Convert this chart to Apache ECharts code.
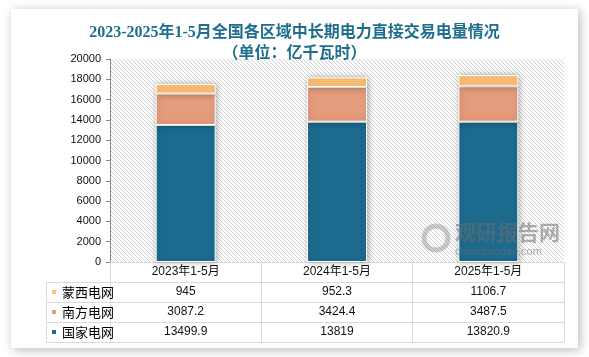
<!DOCTYPE html>
<html>
<head>
<meta charset="utf-8">
<script src="https://cdn.jsdelivr.net/npm/echarts@6/dist/echarts.min.js"></script>
<style>
html,body{margin:0;padding:0;background:#ffffff;}
#main{width:589px;height:357px;}
</style>
</head>
<body>
<div id="main"></div>
<script>
var categories = ['2023年1-5月', '2024年1-5月', '2025年1-5月'];
var guojia = [13499.9, 13819, 13820.9];
var nanfang = [3087.2, 3424.4, 3487.5];
var mengxi = [945, 952.3, 1106.7];
var seriesNames = ['国家电网', '南方电网', '蒙西电网'];
var colors = ['#1c6b8e', '#e59c7c', '#ffc176'];
var yTicks = {min: 0, max: 20000, interval: 2000};

var chart = echarts.init(document.getElementById('main'), null, {renderer: 'canvas'});

var pc = document.createElement('canvas');
pc.width = 4; pc.height = 4;
var ctx = pc.getContext('2d');
ctx.fillStyle = '#ffffff';
ctx.fillRect(0, 0, 4, 4);
ctx.fillStyle = '#d2d2d2';
for (var i = 0; i < 4; i++) { ctx.fillRect(i, i, 1, 1); }

var gridL = 110, gridR = 25, gridT = 59, gridB = 95;
var W = 589, H = 357;
var plotBottom = H - gridB;
var rowH = 20;
var tableLeft = 46;
var lineColor = '#d9d9d9';

function rowAxis(vals, k) {
  return {
    type: 'category', data: categories, position: 'bottom', offset: rowH * k,
    gridIndex: 0,
    axisLine: {show: false}, axisTick: {show: false},
    axisLabel: {
      margin: 10, verticalAlign: 'middle', fontSize: 12, color: '#111',
      fontFamily: 'Liberation Sans, Noto Sans CJK SC',
      formatter: function (v, idx) { return String(vals[idx]); }
    }
  };
}

var graphics = [
  {type: 'rect', z: -10, shape: {x: 11, y: 9, width: 567, height: 339},
   style: {fill: '#ffffff', shadowBlur: 10, shadowColor: 'rgba(0,0,0,0.28)', shadowOffsetX: 2, shadowOffsetY: 2}}
];
for (var r = 1; r <= 4; r++) {
  graphics.push({type: 'line', z: 10, shape: {x1: tableLeft, y1: plotBottom + rowH * r + 0.5, x2: W - gridR, y2: plotBottom + rowH * r + 0.5},
    style: {stroke: lineColor, lineWidth: 1}});
}
graphics.push({type: 'line', z: 10, shape: {x1: tableLeft + 0.5, y1: plotBottom + rowH, x2: tableLeft + 0.5, y2: plotBottom + rowH * 4},
  style: {stroke: lineColor, lineWidth: 1}});
graphics.push({type: 'text', z: 5, left: 455, top: 222,
  style: {text: '观研报告网', fill: 'rgba(110,110,110,0.55)', font: 'bold 21px "Noto Sans CJK SC"'}});
graphics.push({type: 'text', z: 5, left: 455, top: 246,
  style: {text: 'chinabaogao.com', fill: 'rgba(110,110,110,0.55)', font: '11px "Liberation Sans"'}});
graphics.push({type: 'circle', z: 5, shape: {cx: 436, cy: 238, r: 12},
  style: {fill: 'none', stroke: 'rgba(140,140,140,0.45)', lineWidth: 5}});

var option = {
  animation: false,
  backgroundColor: 'transparent',
  title: {
    text: '2023-2025年1-5月全国各区域中长期电力直接交易电量情况\n（单位：亿千瓦时）',
    left: 'center', top: 22, padding: 0,
    textStyle: {fontSize: 16, fontWeight: 'bold', color: '#1f6e8e', lineHeight: 21,
      fontFamily: 'Liberation Serif, Noto Sans CJK SC'}
  },
  legend: {
    orient: 'vertical', left: 50, top: plotBottom + rowH, padding: 0, itemGap: 0,
    itemWidth: 6, itemHeight: 6, icon: 'rect',
    data: ['蒙西电网', '南方电网', '国家电网'],
    textStyle: {fontSize: 13, lineHeight: 20, color: '#000', fontFamily: 'Noto Sans CJK SC'}
  },
  grid: {left: gridL, right: gridR, top: gridT, bottom: gridB, show: true,
    backgroundColor: {image: pc, repeat: 'repeat'}, borderWidth: 0},
  graphic: graphics,
  xAxis: [
    {
      type: 'category', data: categories, position: 'bottom',
      axisLine: {show: true, lineStyle: {color: lineColor}},
      axisTick: {show: true, length: rowH * 4, lineStyle: {color: lineColor}},
      axisLabel: {margin: 10, verticalAlign: 'middle', fontSize: 12, color: '#111',
        fontFamily: 'Liberation Sans, Noto Sans CJK SC'}
    },
    rowAxis(mengxi, 1),
    rowAxis(nanfang, 2),
    rowAxis(guojia, 3)
  ],
  yAxis: {
    type: 'value', min: yTicks.min, max: yTicks.max, interval: yTicks.interval,
    axisLine: {show: true, lineStyle: {color: '#888888'}},
    axisTick: {show: true, length: 4, lineStyle: {color: '#888888'}},
    splitLine: {show: false},
    axisLabel: {fontSize: 11, color: '#111', margin: 9, fontFamily: 'Liberation Sans',
      formatter: function (v) { return String(v); }}
  },
  series: [guojia, nanfang, mengxi].map(function (d, k) {
    return {
      name: seriesNames[k], type: 'bar', stack: 'total', data: d, barWidth: 60,
      itemStyle: {color: colors[k], borderColor: '#ffffff', borderWidth: 1,
        shadowBlur: 6, shadowColor: 'rgba(0,0,0,0.3)', shadowOffsetX: 1, shadowOffsetY: 0}
    };
  })
};
chart.setOption(option);
</script>
</body>
</html>
